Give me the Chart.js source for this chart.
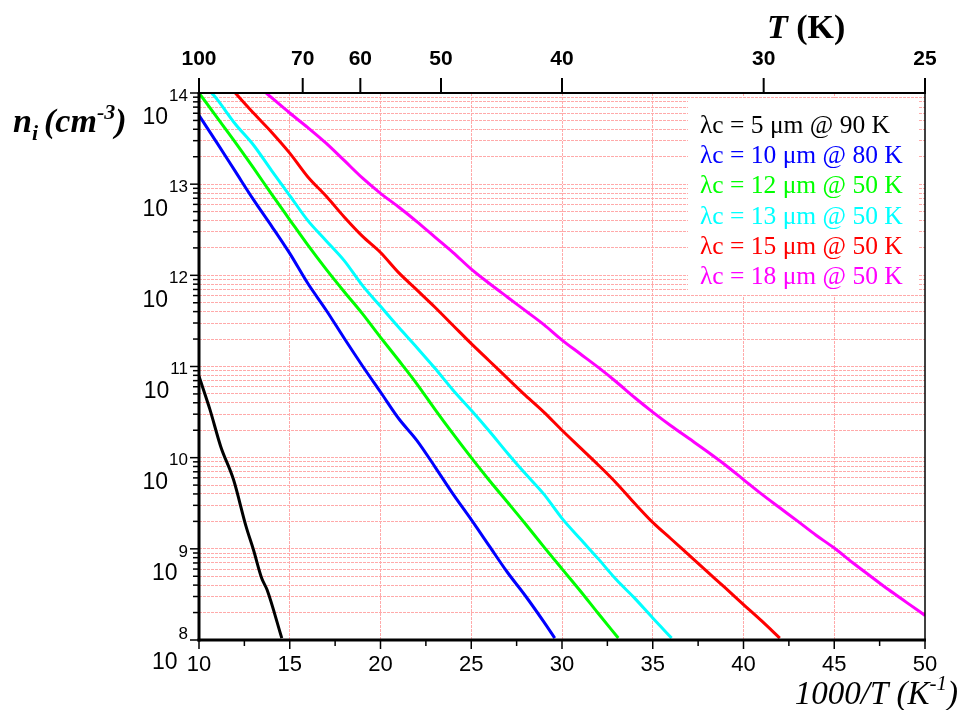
<!DOCTYPE html>
<html><head><meta charset="utf-8">
<script src="https://cdn.jsdelivr.net/npm/chart.js@4.4.1/dist/chart.umd.min.js"></script>
<style>html,body{margin:0;padding:0;background:#fff;}#wrap{width:964px;height:710px;}</style>
</head><body><div id="wrap"><canvas id="c" width="964" height="710"></canvas></div>
<script>
// ---- data: x = 1000/T (1/K), y = intrinsic carrier density ni (cm^-3) ----
const invT_black = [10, 10.6, 11.2, 11.9, 12.6, 13.0, 13.45, 13.75, 14.56];
const ni_black   = [7.8e10, 3.39e10, 1.32e10, 5.75e9, 1.74e9, 9.77e8, 4.79e8, 3.55e8, 1.05e8];

const invT_blue = [10,11,12,13,14,15,16,17,18,19,20,21,22,23,24,25,26,27,28,29,29.6];
const ni_blue   = [5.69e13,2.82e13,1.38e13,6.76e12,3.47e12,1.74e12,8.13e11,4.17e11,2.04e11,1.02e11,
                   5.25e10,2.69e10,1.55e10,7.94e9,3.98e9,2.09e9,1.07e9,5.50e8,3.02e8,1.58e8,1.05e8];

const invT_green = [10,11,12,13,14,15,16,17,18,19,20,21,22,23,24,25,26,27,28,29,30,31,32,33.1];
const ni_green   = [1.0e14,5.37e13,2.88e13,1.51e13,7.76e12,4.07e12,2.14e12,1.17e12,6.61e11,3.80e11,
                    2.09e11,1.17e11,6.46e10,3.39e10,1.82e10,1.0e10,5.62e9,3.24e9,1.86e9,1.05e9,
                    6.03e8,3.47e8,1.95e8,1.05e8];

const invT_cyan = [10.7,11,12,13,14,15,16,17,18,19,20,21,22,23,24,25,26,27,28,29,30,31,32,33,34,35,36.04];
const ni_cyan   = [1.0e14,8.51e13,4.57e13,2.69e13,1.41e13,7.50e12,3.98e12,2.40e12,1.45e12,7.76e11,
                   4.57e11,2.69e11,1.62e11,9.55e10,5.50e10,3.31e10,1.95e10,1.12e10,6.61e9,3.98e9,
                   2.16e9,1.29e9,7.76e8,4.57e8,2.88e8,1.74e8,1.05e8];

const invT_red = [12,13,14,15,16,17,18,19,20,21,22,23,24,25,26,27,28,29,30,31,32,33,34,35,36,37,38,39,40,41,42];
const ni_red   = [1.0e14,6.03e13,3.72e13,2.19e13,1.20e13,7.41e12,4.37e12,2.69e12,1.78e12,1.07e12,
                  6.92e11,4.47e11,2.82e11,1.78e11,1.15e11,7.41e10,4.79e10,3.16e10,2.0e10,1.29e10,
                  8.32e9,5.25e9,3.16e9,1.95e9,1.29e9,8.51e8,5.62e8,3.72e8,2.45e8,1.62e8,1.05e8];

const invT_magenta = [13.7,15,16,17,18,19,20,21,22,23,24,25,26,27,28,29,30,31,32,33,34,35,36,37,38,39,40,41,42,43,44,45,46,47,48,49,50];
const ni_magenta   = [1.0e14,6.03e13,4.17e13,2.82e13,1.82e13,1.17e13,7.94e12,5.62e12,3.89e12,2.63e12,
                      1.78e12,1.17e12,8.13e11,5.75e11,4.07e11,2.88e11,1.95e11,1.38e11,9.77e10,6.76e10,
                      4.57e10,3.16e10,2.24e10,1.62e10,1.17e10,8.32e9,5.75e9,3.98e9,2.82e9,2.0e9,
                      1.41e9,1.02e9,7.08e8,5.01e8,3.55e8,2.57e8,1.86e8];

const seriesLabels = ['λc = 5 μm @ 90 K','λc = 10 μm @ 80 K','λc = 12 μm @ 50 K',
                      'λc = 13 μm @ 50 K','λc = 15 μm @ 50 K','λc = 18 μm @ 50 K'];
const seriesColors = ['#000000','#0000ff','#00ff00','#00ffff','#ff0000','#ff00ff'];

// ---- axis ticks ----
const xTickValues  = [10,12.5,15,17.5,20,22.5,25,27.5,30,32.5,35,37.5,40,42.5,45,47.5,50];
const xLabelValues = [10,15,20,25,30,35,40,45,50];
const topTempLabels = [100,70,60,50,40,30,25];   // T (K) on the top axis
const topAxisRange = [10, 40];                    // top axis spans 1000/T = 10 .. 40
const decadeExps = [8,9,10,11,12,13,14];
const minorMantissas = [2,3,4,5,6,7,8,9];

const SANS = '"Liberation Sans", Arial, sans-serif';
const SERIF = '"Liberation Serif", "Times New Roman", serif';
const GRID = '#ffaaaa';
const CLEAR = 'rgba(0,0,0,0)';

function pts(xs, ys){ return xs.map((x,i)=>({x:x, y:ys[i]})); }
const xsAll = [invT_black, invT_blue, invT_green, invT_cyan, invT_red, invT_magenta];
const ysAll = [ni_black, ni_blue, ni_green, ni_cyan, ni_red, ni_magenta];

const datasets = xsAll.map((xs,i)=>({
  label: seriesLabels[i], data: pts(xs, ysAll[i]), borderColor: seriesColors[i],
  backgroundColor: seriesColors[i], borderWidth: 3, pointRadius: 0, showLine: true,
  cubicInterpolationMode: 'monotone', xAxisID: 'x', yAxisID: 'y'
}));

const decor = {
  id: 'decor',
  beforeDatasetsDraw(chart){
    const ctx = chart.ctx;
    ctx.save(); ctx.fillStyle = '#fff'; ctx.fillRect(688, 98, 231, 197); ctx.restore();
  },
  afterDraw(chart){
    const ctx = chart.ctx, a = chart.chartArea;
    const xs = chart.scales.x, ys = chart.scales.y, xt = chart.scales.xTop;
    ctx.save();
    ctx.strokeStyle = '#000';
    // frame
    ctx.lineWidth = 3;
    ctx.beginPath(); ctx.moveTo(a.left, a.top); ctx.lineTo(a.left, a.bottom+1.5); ctx.stroke();
    ctx.beginPath(); ctx.moveTo(a.left-1.5, a.bottom); ctx.lineTo(a.right+1, a.bottom); ctx.stroke();
    ctx.lineWidth = 2;
    ctx.beginPath(); ctx.moveTo(a.left-1.5, a.top); ctx.lineTo(a.right+1, a.top); ctx.stroke();
    ctx.lineWidth = 1.5;
    ctx.beginPath(); ctx.moveTo(a.right, a.top); ctx.lineTo(a.right, a.bottom); ctx.stroke();
    // bottom ticks
    ctx.lineWidth = 1.5;
    xTickValues.forEach(v=>{
      const px = xs.getPixelForValue(v);
      const len = xLabelValues.includes(v) ? 9 : 6;
      ctx.beginPath(); ctx.moveTo(px, a.bottom); ctx.lineTo(px, a.bottom+len); ctx.stroke();
    });
    // top ticks
    ctx.lineWidth = 2;
    topTempLabels.forEach(t=>{
      const px = xt.getPixelForValue(1000/t);
      ctx.beginPath(); ctx.moveTo(px, a.top); ctx.lineTo(px, a.top-15); ctx.stroke();
    });
    // left ticks
    ctx.lineWidth = 1.5;
    decadeExps.forEach(e=>{
      const py = ys.getPixelForValue(Math.pow(10,e));
      ctx.beginPath(); ctx.moveTo(a.left-9, py); ctx.lineTo(a.left, py); ctx.stroke();
      if (e < 14) minorMantissas.forEach(m=>{
        const q = ys.getPixelForValue(m*Math.pow(10,e));
        ctx.beginPath(); ctx.moveTo(a.left-6, q); ctx.lineTo(a.left, q); ctx.stroke();
      });
    });
    // y tick labels 10^e
    ctx.fillStyle = '#000';
    ctx.textAlign = 'right'; ctx.textBaseline = 'middle';
    decadeExps.forEach(e=>{
      const py = ys.getPixelForValue(Math.pow(10,e));
      const offE = (e === 8) ? -6 : 3;
      const offT = (e === 8) ? 23 : 25;
      ctx.font = '17px ' + SANS;
      const s = String(e);
      const w = ctx.measureText(s).width;
      ctx.fillText(s, 188, py + offE);
      ctx.font = '23px ' + SANS;
      ctx.fillText('10', 188 - w - 1, py + offT);
    });
    // y title n_i (cm^-3)
    ctx.textAlign = 'left'; ctx.textBaseline = 'alphabetic';
    let x = 13;
    const big = 'italic bold 34px ' + SERIF, small = 'italic bold 22px ' + SERIF;
    ctx.font = big; ctx.fillText('n', x, 132); x += ctx.measureText('n').width;
    ctx.font = small; ctx.fillText('i', x, 140); x += ctx.measureText('i').width + 6;
    ctx.font = big; ctx.fillText('(cm', x, 132); x += ctx.measureText('(cm').width;
    ctx.font = small; ctx.fillText('-3', x, 119); x += ctx.measureText('-3').width;
    ctx.font = big; ctx.fillText(')', x, 132);
    // bottom title 1000/T (K^-1)
    const bBig = 'italic 33px ' + SERIF, bSmall = 'italic 21px ' + SERIF;
    ctx.font = bBig; const w1 = ctx.measureText('1000/T (K').width, w3 = ctx.measureText(')').width;
    ctx.font = bSmall; const w2 = ctx.measureText('-1').width;
    x = 958 - (w1 + w2 + w3);
    ctx.font = bBig; ctx.fillText('1000/T (K', x, 704); x += w1;
    ctx.font = bSmall; ctx.fillText('-1', x, 690); x += w2;
    ctx.font = bBig; ctx.fillText(')', x, 704);
    // top title T (K)
    x = 767;
    ctx.font = 'italic bold 34px ' + SERIF; ctx.fillText('T', x, 38); x += ctx.measureText('T').width;
    ctx.font = 'bold 34px ' + SERIF; ctx.fillText(' (K)', x, 38);
    // legend text
    ctx.font = '25.5px ' + SERIF;
    seriesLabels.forEach((lab,i)=>{
      ctx.fillStyle = seriesColors[i];
      ctx.fillText(lab, 700, 133 + i*30.2);
    });
    ctx.restore();
  }
};

new Chart(document.getElementById('c'), {
  type: 'scatter',
  data: { datasets: datasets },
  options: {
    responsive: false, animation: false, devicePixelRatio: 1,
    layout: { padding: { left: 0, right: 39, top: 0, bottom: 0 } },
    plugins: { legend: { display: false }, tooltip: { enabled: false } },
    scales: {
      x: {
        type: 'linear', position: 'bottom', min: 10, max: 50,
        afterFit(s){ s.height = 70; },
        afterBuildTicks(s){ s.ticks = xTickValues.map(v=>({value:v})); },
        ticks: { autoSkip: false, maxRotation: 0, padding: 12, color: '#000',
                 font: { family: SANS, size: 22 },
                 callback: (v)=> xLabelValues.includes(v) ? String(v) : '' },
        grid: { drawTicks: false, lineWidth: 1,
                color: (c)=> (c.tick && c.tick.value % 5 === 0 && c.tick.value > 10 && c.tick.value < 50) ? GRID : CLEAR },
        border: { display: false, dash: [3, 1] }
      },
      xTop: {
        type: 'linear', position: 'top', min: topAxisRange[0], max: topAxisRange[1],
        afterFit(s){ s.height = 93; },
        afterBuildTicks(s){ s.ticks = topTempLabels.map(t=>({value: 1000/t})); },
        ticks: { autoSkip: false, maxRotation: 0, padding: 21, color: '#000',
                 font: { family: SANS, size: 21, weight: 'bold' },
                 callback: (v, i)=> String(topTempLabels[i]) },
        grid: { display: false, drawTicks: false },
        border: { display: false }
      },
      y: {
        type: 'logarithmic', min: 1e8, max: 1e14,
        afterFit(s){ s.width = 199; },
        afterBuildTicks(s){
          const t = [];
          decadeExps.forEach(e=>{
            t.push({value: Math.pow(10,e)});
            if (e < 14) minorMantissas.forEach(m=> t.push({value: m*Math.pow(10,e)}));
          });
          s.ticks = t;
        },
        ticks: { display: false },
        grid: { drawTicks: false, lineWidth: 1,
                color: (c)=> (c.tick && c.tick.value > 1.01e8 && c.tick.value < 0.99e14) ? GRID : CLEAR },
        border: { display: false, dash: [3, 1] }
      }
    }
  },
  plugins: [decor]
});
</script>
</body></html>
